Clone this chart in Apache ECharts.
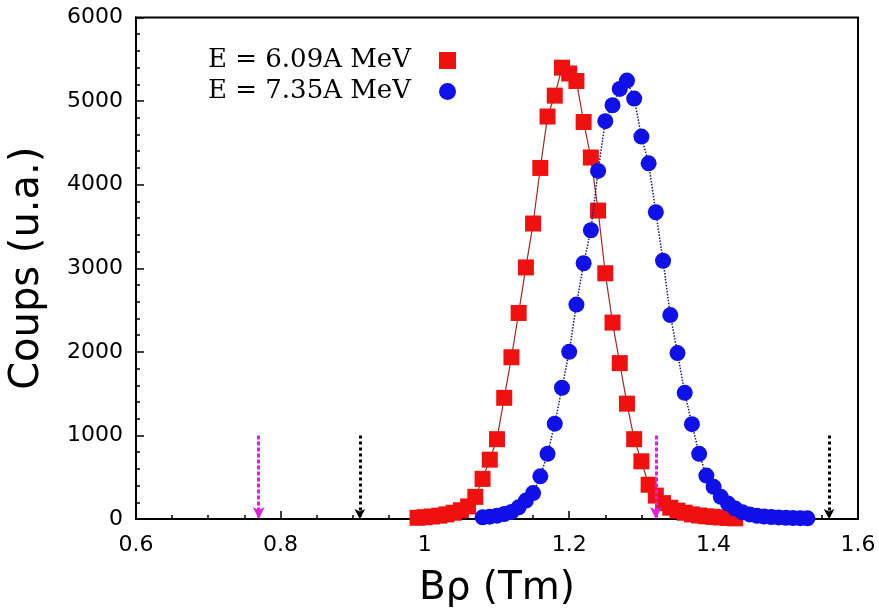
<!DOCTYPE html>
<html>
<head>
<meta charset="utf-8">
<script src="https://cdn.jsdelivr.net/npm/echarts@6/dist/echarts.min.js"></script>
<style>
html,body{margin:0;padding:0;background:#fff;}
#chart{width:879px;height:613px;}
</style>
</head>
<body>
<div id="chart"></div>
<script>
// ---- data ----
var redName = 'E = 6.09A MeV';
var blueName = 'E = 7.35A MeV';
var redX = [0.99,1.00,1.01,1.02,1.03,1.04,1.05,1.06,1.07,1.08,1.09,1.10,1.11,1.12,1.13,1.14,1.15,1.16,1.17,1.18,1.19,1.20,1.21,1.22,1.23,1.24,1.25,1.26,1.27,1.28,1.29,1.30,1.31,1.32,1.33,1.34,1.35,1.36,1.37,1.38,1.39,1.40,1.41,1.42,1.43];
var redY = [15,22,30,40,55,75,105,150,265,480,710,955,1450,1935,2465,3010,3535,4200,4815,5065,5400,5330,5240,4750,4325,3690,2940,2350,1865,1380,955,690,410,280,190,135,100,75,55,42,32,25,18,12,8];
var blueX = [1.08,1.09,1.10,1.11,1.12,1.13,1.14,1.15,1.16,1.17,1.18,1.19,1.20,1.21,1.22,1.23,1.24,1.25,1.26,1.27,1.28,1.29,1.30,1.31,1.32,1.33,1.34,1.35,1.36,1.37,1.38,1.39,1.40,1.41,1.42,1.43,1.44,1.45,1.46,1.47,1.48,1.49,1.50,1.51,1.52,1.53];
var blueY = [20,28,40,60,85,140,220,310,510,780,1140,1570,2000,2565,3060,3455,4165,4760,4950,5145,5245,5030,4575,4255,3670,3090,2440,1985,1510,1135,780,520,385,265,185,125,80,55,38,30,24,19,15,12,10,8];
var magentaX = [0.77, 1.32];
var blackX = [0.91, 1.56];
var markerTop = 1000;
var xTitle = 'B\u03c1 (Tm)';
var yTitle = 'Coups (u.a.)';

function zip(xs, ys){ var o=[]; for(var i=0;i<xs.length;i++){o.push([xs[i],ys[i]]);} return o; }
function vLines(xs){ return xs.map(function(x){ return [{coord:[x,markerTop]},{coord:[x,0]}]; }); }

var chart = echarts.init(document.getElementById('chart'), null, {renderer:'canvas'});
var sansFont = 'DejaVu Sans';
chart.setOption({
  animation:false,
  backgroundColor:'#ffffff',
  grid:{left:131, right:21, top:17.5, bottom:89.5, show:true, borderColor:'#000', borderWidth:2, backgroundColor:'transparent'},
  legend:{
    show:true, orient:'vertical', left:203, top:40, align:'right',
    itemWidth:17, itemHeight:17, itemGap:0,
    data:[{name:redName, icon:'rect'},{name:blueName, icon:'circle'}],
    textStyle:{fontFamily:'DejaVu Serif', fontSize:26, color:'#000', lineHeight:31, padding:[0,23,0,0]},
    selectedMode:false
  },
  xAxis:{
    type:'value', min:0.6, max:1.6, interval:0.2,
    name:xTitle, nameLocation:'middle', nameGap:50,
    nameTextStyle:{fontFamily:sansFont, fontSize:39, color:'#000'},
    axisLine:{show:true, onZero:false, lineStyle:{color:'#000', width:2}},
    axisTick:{show:true, inside:true, length:8, lineStyle:{color:'#000', width:1.5}},
    minorTick:{show:true, splitNumber:4, length:4, lineStyle:{color:'#000', width:1.5}},
    splitLine:{show:false},
    axisLabel:{fontFamily:sansFont, fontSize:22, color:'#000', margin:15,
      formatter:function(v){ return String(Math.round(v*10)/10); }}
  },
  yAxis:{
    type:'value', min:0, max:6000, interval:1000,
    name:yTitle, nameLocation:'middle', nameGap:88, nameRotate:90,
    nameTextStyle:{fontFamily:sansFont, fontSize:40, color:'#000'},
    axisLine:{show:true, lineStyle:{color:'#000', width:2}},
    axisTick:{show:true, inside:true, length:8, lineStyle:{color:'#000', width:1.5}},
    minorTick:{show:true, splitNumber:5, length:4, lineStyle:{color:'#000', width:1.5}},
    splitLine:{show:false},
    axisLabel:{fontFamily:sansFont, fontSize:22, color:'#000', margin:13,
      formatter:function(v){ return String(v); }}
  },
  series:[
    {
      name:'markers', type:'line', data:[], silent:true,
      markLine:{
        silent:true, symbol:['none','arrow'], symbolSize:[9,12], animation:false,
        label:{show:false},
        lineStyle:{color:'#e020e0', width:3, type:[4,2]},
        data:vLines(magentaX)
      }
    },
    {
      name:'markers2', type:'line', data:[], silent:true,
      markLine:{
        silent:true, symbol:['none','arrow'], symbolSize:[8,10], animation:false,
        label:{show:false},
        lineStyle:{color:'#000', width:3, type:[3,3]},
        data:vLines(blackX)
      }
    },
    {
      name:redName, type:'line', data:zip(redX, redY),
      symbol:'rect', symbolSize:16,
      itemStyle:{color:'#f01010'},
      lineStyle:{color:'#a02828', width:1.2},
      z:3
    },
    {
      name:blueName, type:'line', data:zip(blueX, blueY),
      symbol:'circle', symbolSize:16,
      itemStyle:{color:'#1010e8'},
      lineStyle:{color:'#1a1a60', width:1.5, type:'dotted'},
      z:4
    }
  ]
});
</script>
</body>
</html>
